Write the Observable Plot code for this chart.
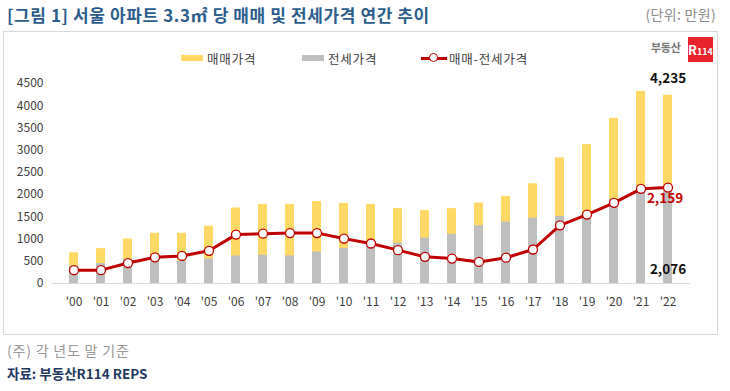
<!DOCTYPE html>
<html><head><meta charset="utf-8">
<script src="https://cdn.jsdelivr.net/npm/d3@7"></script>
<script src="https://cdn.jsdelivr.net/npm/@observablehq/plot@0.6"></script>
<style>
body{margin:0;background:#fff;font-family:"Noto Sans CJK KR","Noto Sans",sans-serif;}
#wrap{position:relative;width:730px;height:391px;overflow:hidden;}
.abs{position:absolute;white-space:nowrap;}
#title{left:7px;top:2px;font-size:17px;font-weight:bold;color:#2B5D8C;letter-spacing:0.6px;}
#unit{right:14px;top:4px;font-size:14px;color:#8c8c8c;letter-spacing:0.3px;}
#panel{left:3px;top:31px;width:713px;height:302px;border:1px solid #d9d9d9;}
#chart{left:0;top:62px;}
.leg{font-size:12.5px;color:#404040;top:49px;letter-spacing:0.8px;}
#note{left:7px;top:340px;font-size:14px;color:#999;letter-spacing:0.8px;}
#src{left:7px;top:363px;font-size:13.5px;font-weight:bold;color:#1F3864;}
#logo1{left:651px;top:39px;font-size:11px;font-weight:bold;color:#777;letter-spacing:-0.3px;}
#logo2{left:688px;top:37px;width:25px;height:25px;background:#E8232E;color:#fff;font-size:9px;font-weight:bold;text-align:center;line-height:25px;}
</style></head>
<body><div id="wrap">
<div id="panel" class="abs"></div>
<div id="title" class="abs">[그림 1] 서울 아파트 3.3㎡ 당 매매 및 전세가격 연간 추이</div>
<div id="unit" class="abs">(단위: 만원)</div>
<div id="logo1" class="abs">부동산</div>
<div id="logo2" class="abs"><span style="font-size:13px">R</span>114</div>
<div id="chart" class="abs"></div>
<div class="abs" style="left:181px;top:55px;width:22px;height:6px;background:#FFD966"></div>
<div class="abs leg" style="left:207px">매매가격</div>
<div class="abs" style="left:302px;top:55px;width:22px;height:6px;background:#BFBFBF"></div>
<div class="abs leg" style="left:328px">전세가격</div>
<div class="abs" style="left:421px;top:56.5px;width:26px;height:3px;background:#C00000"></div>
<div class="abs" style="left:429px;top:53px;width:7px;height:7px;border:1.5px solid #C00000;border-radius:50%;background:#fff"></div>
<div class="abs leg" style="left:449px">매매-전세가격</div>
<div id="note" class="abs">(주) 각 년도 말 기준</div>
<div id="src" class="abs">자료: 부동산R114 REPS</div>
</div>
<script>
const years = ["'00","'01","'02","'03","'04","'05","'06","'07","'08","'09","'10","'11","'12","'13","'14","'15","'16","'17","'18","'19","'20","'21","'22"];
const salePrice = [690, 785, 1000, 1130, 1130, 1290, 1700, 1780, 1780, 1845, 1800, 1780, 1685, 1645, 1685, 1810, 1960, 2245, 2825, 3125, 3715, 4320, 4235];
const jeonsePrice = [390, 450, 540, 540, 500, 550, 620, 635, 620, 710, 785, 880, 910, 1020, 1105, 1300, 1380, 1470, 1510, 1575, 1900, 2190, 2076];
const gapPrice = [300, 300, 460, 590, 620, 735, 1100, 1120, 1135, 1135, 1010, 900, 750, 600, 560, 485, 580, 765, 1310, 1550, 1815, 2130, 2159];
const yTicks = [0, 500, 1000, 1500, 2000, 2500, 3000, 3500, 4000, 4500];

const rows = years.map((y, i) => ({year: y, sale: salePrice[i], jeonse: jeonsePrice[i], gap: gapPrice[i]}));
const last = [rows[rows.length - 1]];
const fmt = d3.format(",");

const chart = Plot.plot({
  width: 730,
  height: 250,
  marginLeft: 52,
  marginRight: 40,
  marginTop: 21,
  marginBottom: 29,
  style: {fontFamily: '"Noto Sans CJK KR","Noto Sans",sans-serif', fontSize: "12px", color: "#404040", background: "transparent", overflow: "visible"},
  x: {domain: years, paddingInner: 0.65, paddingOuter: 0.325, label: null, tickSize: 0, tickPadding: 14},
  y: {domain: [0, 4500], ticks: yTicks, tickFormat: d => String(d), label: null, tickSize: 0, tickPadding: 9},
  marks: [
    Plot.barY(rows, {x: "year", y: "sale", fill: "#FFD966"}),
    Plot.barY(rows, {x: "year", y: "jeonse", fill: "#BFBFBF"}),
    Plot.ruleY([0], {stroke: "#d9d9d9", strokeWidth: 1}),
    Plot.lineY(rows, {x: "year", y: "gap", stroke: "#C00000", strokeWidth: 3}),
    Plot.dot(rows, {x: "year", y: "gap", r: 4.5, fill: "#fff", stroke: "#C00000", strokeWidth: 1.3}),
    Plot.text(last, {x: "year", y: "sale", text: d => fmt(d.sale), dy: -17, dx: 0, fontWeight: "bold", fontSize: 13.5, fill: "#111"}),
    Plot.text(last, {x: "year", y: "gap", text: d => fmt(d.gap), dy: 11, dx: -3, fontWeight: "bold", fontSize: 13.5, fill: "#C00000"}),
    Plot.text(last, {x: "year", y: "jeonse", text: d => fmt(d.jeonse), dy: 78, dx: 0, fontWeight: "bold", fontSize: 13.5, fill: "#111"})
  ]
});
document.getElementById("chart").appendChild(chart);
</script>
</body></html>
